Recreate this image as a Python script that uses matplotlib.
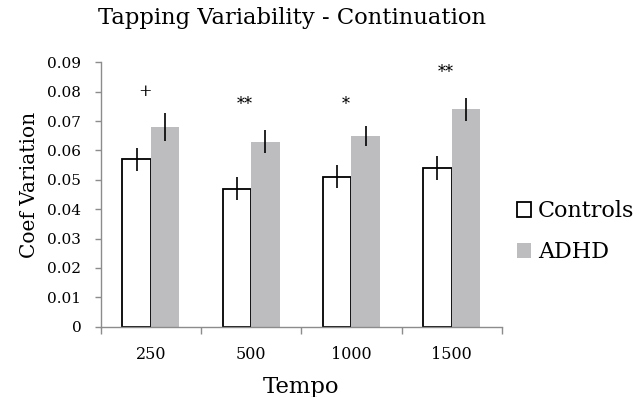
import matplotlib
matplotlib.use('Agg')
import matplotlib.pyplot as plt
import numpy as np

tempos = ['250', '500', '1000', '1500']
controls_mean = [0.057, 0.047, 0.051, 0.054]
controls_err = [0.004, 0.004, 0.0039, 0.004]
adhd_mean = [0.068, 0.063, 0.065, 0.074]
adhd_err = [0.0048, 0.004, 0.0034, 0.004]
sig_labels = ['+', '**', '*', '**']
sig_heights = [0.080, 0.0757, 0.0755, 0.0865]

plt.rcParams['font.family'] = 'DejaVu Serif'

fig = plt.figure(figsize=(6.44, 3.97), dpi=100)
ax = fig.add_axes([0.1564, 0.177, 0.623, 0.666])

x = np.arange(len(tempos))
w = 0.285
ax.bar(x - w/2, controls_mean, w, color='white', edgecolor='black', linewidth=1.3,
       label='Controls', zorder=2)
ax.bar(x + w/2, adhd_mean, w, color='#bdbdbf', edgecolor='none', label='ADHD', zorder=2)
ax.errorbar(x - w/2, controls_mean, yerr=controls_err, fmt='none', ecolor='black',
            elinewidth=1.2, capsize=0, zorder=3)
ax.errorbar(x + w/2, adhd_mean, yerr=adhd_err, fmt='none', ecolor='black',
            elinewidth=1.2, capsize=0, zorder=3)

for i, (lab, h) in enumerate(zip(sig_labels, sig_heights)):
    ax.text(i - 0.06, h, lab, ha='center', va='center', fontsize=11.5)

ax.set_xlim(-0.5, 3.5)
ax.set_ylim(0, 0.09)
ax.set_yticks(np.arange(0, 0.091, 0.01))
ax.set_yticklabels(['0'] + ['%.2f' % v for v in np.arange(0.01, 0.091, 0.01)])
ax.set_xticks(x)
ax.set_xticklabels(tempos)
ax.set_xticks(np.arange(-0.5, 3.6, 1), minor=True)
ax.tick_params(axis='x', which='major', length=0, pad=14, labelsize=11.5)
ax.tick_params(axis='x', which='minor', length=5, color='#8c8c8c', width=1)
ax.tick_params(axis='y', length=4, color='#8c8c8c', width=1, labelsize=11, pad=10)

for s in ['top', 'right']:
    ax.spines[s].set_visible(False)
for s in ['left', 'bottom']:
    ax.spines[s].set_color('#8c8c8c')
    ax.spines[s].set_linewidth(1)

ax.set_xlabel('Tempo', fontsize=16.4, labelpad=9)
ax.set_ylabel('Coef Variation', fontsize=14.5)
ax.yaxis.set_label_coords(-0.153, 0.536)
fig.text(0.4534, 0.955, 'Tapping Variability - Continuation', ha='center', va='center',
         fontsize=16.3)

ax.legend(loc='center left', bbox_to_anchor=(0.803, 0.416), bbox_transform=fig.transFigure,
          frameon=False, fontsize=16, borderpad=0, borderaxespad=0,
          handlelength=0.64, handleheight=0.64, handletextpad=0.3, labelspacing=0.85)

fig.savefig('out.png', dpi=100)
